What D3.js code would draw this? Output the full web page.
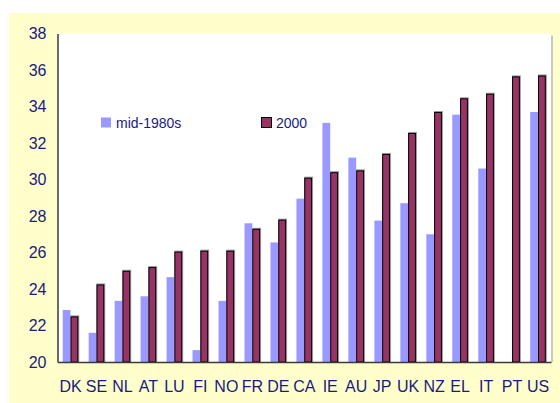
<!DOCTYPE html>
<html lang="en">
<head>
<meta charset="utf-8">
<title>Bars: mid-1980s vs 2000</title>
<script src="https://cdn.jsdelivr.net/npm/d3@7"></script>
<style>
  body { margin: 0; background: #fff; }
  text { font-family: "Liberation Sans", Arial, sans-serif; fill: #1a1a80; }
</style>
</head>
<body>
<script>
// data
var countries = ["DK","SE","NL","AT","LU","FI","NO","FR","DE","CA","IE","AU","JP","UK","NZ","EL","IT","PT","US"];
var mid1980s = [22.85, 21.6, 23.35, 23.6, 24.65, 20.65, 23.35, 27.6, 26.55, 28.95, 33.1, 31.2, 27.75, 28.7, 27.0, 33.55, 30.6, null, 33.7];
var y2000    = [22.5, 24.25, 25.0, 25.2, 26.05, 26.1, 26.1, 27.3, 27.8, 30.1, 30.4, 30.5, 31.4, 32.55, 33.7, 34.45, 34.7, 35.65, 35.7];
var seriesNames = ["mid-1980s", "2000"];
var yTicks = [20, 22, 24, 26, 28, 30, 32, 34, 36, 38];

var w = 560, h = 403;
var pl = 57.5, pr = 551, pt = 33.5, pb = 362;

var svg = d3.select("body").append("svg")
    .attr("width", w)
    .attr("height", h);

// pale yellow chart area and white plot area
svg.append("rect").attr("x", 9).attr("y", 13).attr("width", w - 9).attr("height", h - 13).attr("fill", "#ffffcc");
svg.append("rect").attr("x", pr).attr("y", pt + 2).attr("width", 2).attr("height", pb - pt - 2).attr("fill", "#c8c8c8");
svg.append("rect").attr("x", pl).attr("y", pt).attr("width", pr - pl).attr("height", pb - pt).attr("fill", "#fff");

var x = d3.scaleBand().domain(countries).range([pl, pr]);
var y = d3.scaleLinear().domain([20, 38]).range([pb, pt]);
var xs = d3.scaleBand().domain(seriesNames).range([-7.8, 7.8]);

var rows = countries.map(function(c, i) { return { c: c, a: mid1980s[i], b: y2000[i] }; });

// mid-1980s bars
svg.append("g").selectAll("rect")
  .data(rows.filter(function(d) { return d.a != null; }))
  .enter().append("rect")
    .attr("x", function(d) { return x(d.c) + x.bandwidth() / 2 + xs("mid-1980s"); })
    .attr("y", function(d) { return y(d.a); })
    .attr("width", xs.bandwidth())
    .attr("height", function(d) { return pb - y(d.a); })
    .attr("fill", "#9999ff");

// 2000 bars, with a thin grey shadow
var g2 = svg.append("g");
g2.selectAll("rect.shadow")
  .data(rows)
  .enter().append("rect")
    .attr("class", "shadow")
    .attr("x", function(d) { return x(d.c) + x.bandwidth() / 2 + xs("2000"); })
    .attr("y", function(d) { return y(d.b) - 1; })
    .attr("width", xs.bandwidth() + 1)
    .attr("height", function(d) { return pb - y(d.b) + 1; })
    .attr("fill", "#9a9a9a");
g2.selectAll("rect.bar")
  .data(rows)
  .enter().append("rect")
    .attr("class", "bar")
    .attr("x", function(d) { return x(d.c) + x.bandwidth() / 2 + xs("2000") + 0.5; })
    .attr("y", function(d) { return y(d.b) + 0.5; })
    .attr("width", xs.bandwidth() - 1)
    .attr("height", function(d) { return pb - y(d.b) - 0.5; })
    .attr("fill", "#993366")
    .attr("stroke", "#000")
    .attr("stroke-width", 1);

// axes
var yAxis = svg.append("g")
    .attr("transform", "translate(" + pl + ",0)")
    .call(d3.axisLeft(y).tickValues(yTicks).tickSize(0).tickPadding(11));
var xAxis = svg.append("g")
    .attr("transform", "translate(0," + pb + ")")
    .call(d3.axisBottom(x).tickSize(0).tickPadding(19));

[yAxis, xAxis].forEach(function(a) {
  a.select(".domain").attr("stroke", "#3a3a3a").attr("stroke-width", 1.5);
  a.selectAll("text").style("font-size", "16px").attr("fill", "#1a1a80");
});

// legend
var legend = [
  { name: "mid-1980s", color: "#9999ff", stroke: "none", lx: 101, tx: 116 },
  { name: "2000", color: "#993366", stroke: "#000", lx: 261.5, tx: 276 }
];
var lg = svg.append("g").selectAll("g").data(legend).enter().append("g");
lg.append("rect")
    .attr("x", function(d) { return d.lx; })
    .attr("y", 117.5)
    .attr("width", 10)
    .attr("height", 10)
    .attr("fill", function(d) { return d.color; })
    .attr("stroke", function(d) { return d.stroke; });
lg.append("text")
    .attr("x", function(d) { return d.tx; })
    .attr("y", 127.5)
    .style("font-size", "14px")
    .text(function(d) { return d.name; });
</script>
</body>
</html>
